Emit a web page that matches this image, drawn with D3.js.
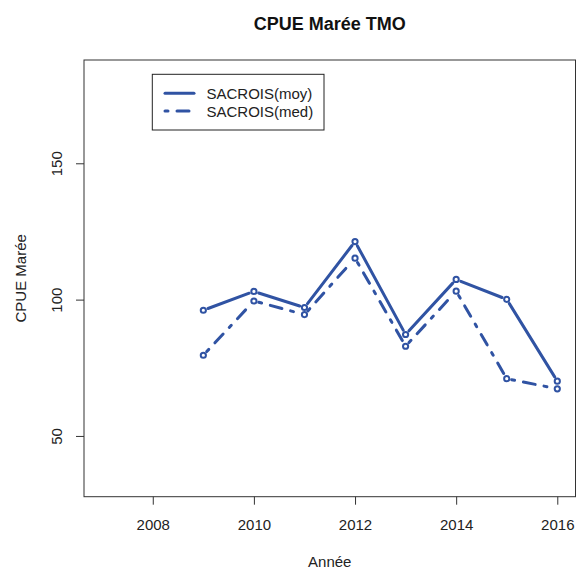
<!DOCTYPE html>
<html>
<head>
<meta charset="utf-8">
<script src="https://cdn.jsdelivr.net/npm/d3@7"></script>
<style>
  body { margin: 0; background: #fff; }
  svg { display: block; font-family: "Liberation Sans", Arial, sans-serif; }
</style>
</head>
<body>
<div id="plot"></div>
<script>
// Data
const years = [2009, 2010, 2011, 2012, 2013, 2014, 2015, 2016];
const moy = [96.1, 103.0, 97.1, 121.3, 87.2, 107.4, 100.1, 70.1];
const med = [79.6, 99.5, 94.5, 115.2, 82.9, 103.1, 71.0, 67.3];
const xTicks = [2008, 2010, 2012, 2014, 2016];
const yTicks = [50, 100, 150];
const seriesNames = ["SACROIS(moy)", "SACROIS(med)"];

const W = 577, H = 570;
const box = {left: 84, right: 575.5, top: 60, bottom: 496.7};
const blue = "#3053a3";
const dotdash = "3,9,12,9";

const svg = d3.select("#plot").append("svg")
    .attr("width", W)
    .attr("height", H);

// R style ranges: xlim 2007-2016, ylim min*0.5 - max*1.5, 4% extension
const xPad = (2016 - 2007) * 0.04;
const x = d3.scaleLinear()
    .domain([2007 - xPad, 2016 + xPad])
    .range([box.left, box.right]);

const yLo = d3.min(med) * 0.5, yHi = d3.max(moy) * 1.5;
const yPad = (yHi - yLo) * 0.04;
const y = d3.scaleLinear()
    .domain([yLo - yPad, yHi + yPad])
    .range([box.bottom, box.top]);

// Plot box
svg.append("rect")
    .attr("x", box.left)
    .attr("y", box.top)
    .attr("width", box.right - box.left)
    .attr("height", box.bottom - box.top)
    .attr("fill", "none")
    .attr("stroke", "#333")
    .attr("stroke-width", 1);

// X axis
const xAxis = svg.append("g")
    .attr("transform", `translate(0,${box.bottom})`)
    .call(d3.axisBottom(x).tickValues(xTicks).tickFormat(d3.format("d"))
        .tickSize(8).tickSizeOuter(0).tickPadding(15));
xAxis.select(".domain").remove();
xAxis.selectAll("line").attr("stroke", "#333");
xAxis.selectAll("text").attr("font-size", 15).attr("fill", "#222");

// Y axis
const yAxis = svg.append("g")
    .attr("transform", `translate(${box.left},0)`)
    .call(d3.axisLeft(y).tickValues(yTicks).tickSize(8).tickSizeOuter(0));
yAxis.select(".domain").remove();
yAxis.selectAll("line").attr("stroke", "#333");
yAxis.selectAll("text")
    .attr("font-size", 15)
    .attr("fill", "#222")
    .attr("text-anchor", "middle")
    .attr("dy", null)
    .attr("x", null)
    .attr("transform", "translate(-28,0) rotate(-90)")
    .attr("dominant-baseline", "central");

// Title and axis labels
svg.append("text")
    .attr("x", (box.left + box.right) / 2)
    .attr("y", 30)
    .attr("text-anchor", "middle")
    .attr("font-size", 18)
    .attr("font-weight", "bold")
    .attr("fill", "#111")
    .text("CPUE Marée TMO");

svg.append("text")
    .attr("x", (box.left + box.right) / 2)
    .attr("y", 567)
    .attr("text-anchor", "middle")
    .attr("font-size", 15)
    .attr("fill", "#222")
    .text("Année");

svg.append("text")
    .attr("transform", `translate(20,${(box.top + box.bottom) / 2}) rotate(-90)`)
    .attr("text-anchor", "middle")
    .attr("dominant-baseline", "central")
    .attr("font-size", 15)
    .attr("fill", "#222")
    .text("CPUE Marée");

// Series drawn as type "b": segments with gaps around the points
function drawSeries(vals, dash) {
    const pts = years.map((yr, i) => [x(yr), y(vals[i])]);
    const gap = 5;
    const g = svg.append("g");
    for (let i = 0; i < pts.length - 1; i++) {
        const [x0, y0] = pts[i], [x1, y1] = pts[i + 1];
        const len = Math.hypot(x1 - x0, y1 - y0);
        if (len <= 2 * gap) continue;
        const ux = (x1 - x0) / len, uy = (y1 - y0) / len;
        g.append("line")
            .attr("x1", x0 + ux * gap).attr("y1", y0 + uy * gap)
            .attr("x2", x1 - ux * gap).attr("y2", y1 - uy * gap)
            .attr("stroke", blue)
            .attr("stroke-width", 3)
            .attr("stroke-linecap", "round")
            .attr("stroke-dasharray", dash);
    }
    g.selectAll("circle")
        .data(pts)
        .join("circle")
        .attr("cx", d => d[0])
        .attr("cy", d => d[1])
        .attr("r", 2.6)
        .attr("fill", "none")
        .attr("stroke", blue)
        .attr("stroke-width", 2);
}

drawSeries(moy, null);
drawSeries(med, dotdash);

// Legend
const legend = svg.append("g");
legend.append("rect")
    .attr("x", 152.3)
    .attr("y", 74.3)
    .attr("width", 324 - 152.3)
    .attr("height", 130 - 74.3)
    .attr("fill", "#fff")
    .attr("stroke", "#222")
    .attr("stroke-width", 1);

const legendRows = [93.3, 111];
seriesNames.forEach((name, i) => {
    legend.append("line")
        .attr("x1", 165).attr("x2", 194)
        .attr("y1", legendRows[i]).attr("y2", legendRows[i])
        .attr("stroke", blue)
        .attr("stroke-width", 3)
        .attr("stroke-linecap", "round")
        .attr("stroke-dasharray", i === 0 ? null : dotdash);
    legend.append("text")
        .attr("x", 206.5)
        .attr("y", legendRows[i])
        .attr("dominant-baseline", "central")
        .attr("font-size", 15)
        .attr("fill", "#222")
        .text(name);
});
</script>
</body>
</html>
